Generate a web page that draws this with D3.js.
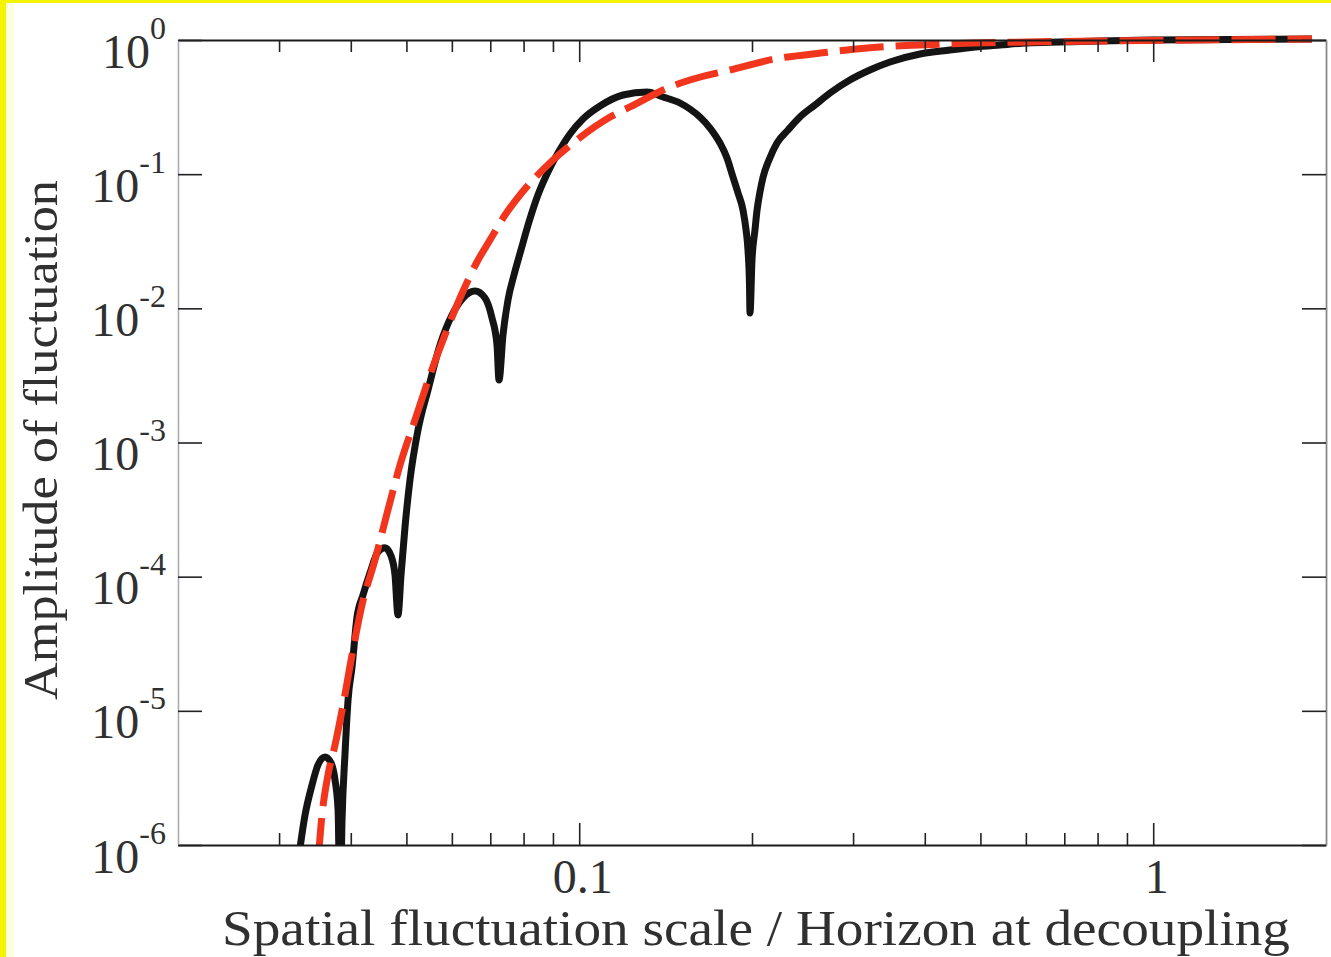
<!DOCTYPE html>
<html>
<head>
<meta charset="utf-8">
<script src="https://cdn.jsdelivr.net/npm/d3@7"></script>
<style>
  html, body { margin: 0; padding: 0; background: #fff; }
  svg { display: block; }
</style>
</head>
<body>
<svg id="chart" width="1331" height="957"></svg>
<script>
// ---- data ----
const xTicksMajor = [0.1, 1];
const xTickLabels = ["0.1", "1"];
const xTicksMinor = [0.03, 0.04, 0.05, 0.06, 0.07, 0.08, 0.09, 0.2, 0.3, 0.4, 0.5, 0.6, 0.7, 0.8, 0.9];
const yTicks = [1, 1e-1, 1e-2, 1e-3, 1e-4, 1e-5, 1e-6];
const yTickExponents = ["0", "-1", "-2", "-3", "-4", "-5", "-6"];

// solid black curve: actual fluctuation amplitude
const blackX = [0.03224, 0.03329, 0.03424, 0.03507, 0.03607, 0.03695, 0.03755, 0.03801, 0.03831, 0.03862,
  0.03909, 0.03956, 0.04020, 0.04101, 0.04201, 0.04320, 0.04461, 0.04588, 0.04700, 0.04776,
  0.04834, 0.04893, 0.04972, 0.05072, 0.05238, 0.05452, 0.05721, 0.06003, 0.06274, 0.06583,
  0.06853, 0.07048, 0.07191, 0.07249, 0.07366, 0.07515, 0.07698, 0.07916, 0.08174, 0.08474,
  0.08820, 0.09184, 0.09637, 0.1015, 0.1087, 0.1192, 0.1313, 0.1400, 0.1498, 0.1559,
  0.1623, 0.1690, 0.1759, 0.1809, 0.1853, 0.1891, 0.1929, 0.1953, 0.1968, 0.1980,
  0.1984, 0.2000, 0.2024, 0.2041, 0.2065, 0.2091, 0.2141, 0.2211, 0.2311, 0.2424,
  0.2575, 0.2735, 0.2962, 0.3209, 0.3478, 0.3924, 0.4426, 0.4894, 0.5409, 0.6028,
  0.6881, 0.8078, 0.9872, 1.891];
const blackY = [6.5e-7, 1.67e-6, 2.80e-6, 3.95e-6, 4.53e-6, 4.09e-6, 3.05e-6, 1.82e-6, 3e-7, 1.54e-6,
  4.85e-6, 1.20e-5, 2.12e-5, 5.01e-5, 7.30e-5, 1.065e-4, 1.53e-4, 1.64e-4, 1.43e-4, 1.03e-4,
  5.18e-5, 1.03e-4, 2.35e-4, 5.26e-4, 1.24e-3, 2.46e-3, 5.33e-3, 8.92e-3, 1.194e-2, 1.346e-2,
  1.194e-2, 8.47e-3, 5.33e-3, 2.92e-3, 6.33e-3, 1.154e-2, 1.772e-2, 2.721e-2, 4.40e-2, 6.99e-2,
  0.1038, 0.1438, 0.1992, 0.2577, 0.3222, 0.3891, 0.4098, 0.3759, 0.3392, 0.3060,
  0.2667, 0.2208, 0.1707, 0.1319, 0.09526, 0.07239, 0.05406, 0.03836, 0.02721, 0.01493,
  0.00923, 0.02293, 0.03836, 0.05406, 0.07366, 0.09526, 0.1275, 0.1707, 0.2135, 0.2667,
  0.3278, 0.4027, 0.5032, 0.5976, 0.6855, 0.7864, 0.8424, 0.8868, 0.9178, 0.9498,
  0.9663, 0.9830, 1.0, 1.017];

// dashed red curve: envelope
const redX = [0.03507, 0.03564, 0.03650, 0.03755, 0.03878, 0.04020, 0.04184, 0.04407, 0.04643, 0.04873,
  0.05175, 0.05495, 0.05836, 0.06199, 0.06636, 0.06991, 0.07426, 0.07885, 0.09001, 0.09754,
  0.1132, 0.1226, 0.1439, 0.1559, 0.1831, 0.2238, 0.2555, 0.2927, 0.3342, 0.3924,
  0.4855, 0.6028, 0.8078, 1.206, 1.891];
const redY = [7.47e-7, 1.67e-6, 3.32e-6, 5.56e-6, 1.106e-5, 2.61e-5, 6.15e-5, 1.331e-4, 3.14e-4, 6.80e-4,
  1.472e-3, 3.18e-3, 6.33e-3, 1.194e-2, 2.215e-2, 3.23e-2, 4.96e-2, 6.99e-2, 0.1275, 0.1707,
  0.2667, 0.3167, 0.4464, 0.5033, 0.5976, 0.7341, 0.7865, 0.8424, 0.8867, 0.9178,
  0.9498, 0.9663, 0.983, 1.0, 1.017];

const xTitle = "Spatial fluctuation scale / Horizon at decoupling";
const yTitle = "Amplitude of fluctuation";

// ---- layout ----
const W = 1331, H = 957;
const L = 178, R = 1326, T = 40, B = 845;
const svg = d3.select("#chart");
const textColor = "#303030";
const font = "'Liberation Serif', 'Times New Roman', serif";

// yellow frame remnants
svg.append("rect").attr("x", 0).attr("y", 0).attr("width", W).attr("height", H).attr("fill", "#fff");
svg.append("rect").attr("x", 6).attr("y", 0).attr("width", 8).attr("height", H).attr("fill", "#fdfde0");
svg.append("rect").attr("x", 0).attr("y", 0).attr("width", 6).attr("height", H).attr("fill", "#f4f400");
svg.append("rect").attr("x", 0).attr("y", 0).attr("width", W).attr("height", 3).attr("fill", "#f4f400");

const x = d3.scaleLog().domain([0.02, 2]).range([L, R]);
const y = d3.scaleLog().domain([1e-6, 1]).range([B, T]);

// clip
svg.append("defs").append("clipPath").attr("id", "plotclip")
  .append("rect").attr("x", L).attr("y", T - 6).attr("width", R - L).attr("height", B - T + 6);

// curves
const line = d3.line().x(d => x(d[0])).y(d => y(d[1])).curve(d3.curveMonotoneX);
const g = svg.append("g").attr("clip-path", "url(#plotclip)");
g.append("path").datum(blackX.map((v, i) => [v, blackY[i]]))
  .attr("d", line).attr("fill", "none").attr("stroke", "#141414")
  .attr("stroke-width", 7).attr("stroke-linejoin", "round");
g.append("path").datum(redX.map((v, i) => [v, redY[i]]))
  .attr("d", line).attr("fill", "none").attr("stroke", "#f2361e")
  .attr("stroke-width", 7).attr("stroke-dasharray", "44,12");

// axes
function styleAxis(sel, domainColor, domainWidth) {
  sel.select(".domain").attr("stroke", domainColor).attr("stroke-width", domainWidth);
  sel.selectAll(".tick line").attr("stroke", "#222").attr("stroke-width", 1.6);
  sel.selectAll("text").remove();
}

// bottom
const gb = svg.append("g").attr("transform", `translate(0,${B})`);
gb.call(d3.axisBottom(x).tickValues(xTicksMinor).tickSizeInner(-12).tickSizeOuter(0).tickFormat(""));
styleAxis(gb, "#1a1a1a", 2.2);
const gbM = svg.append("g").attr("transform", `translate(0,${B})`);
gbM.call(d3.axisBottom(x).tickValues(xTicksMajor).tickSizeInner(-22).tickSizeOuter(0)
  .tickPadding(14).tickFormat((d, i) => xTickLabels[i]));
gbM.select(".domain").remove();
gbM.selectAll(".tick line").attr("stroke", "#222").attr("stroke-width", 1.6);
gbM.selectAll(".tick text").attr("fill", textColor).attr("font-family", font)
  .attr("font-size", 48).attr("dy", "0.71em").attr("dx", 3);

// top
const gt = svg.append("g").attr("transform", `translate(0,${T})`);
gt.call(d3.axisTop(x).tickValues(xTicksMinor).tickSizeInner(-12).tickSizeOuter(0).tickFormat(""));
styleAxis(gt, "#1a1a1a", 2.2);
const gtM = svg.append("g").attr("transform", `translate(0,${T})`);
gtM.call(d3.axisTop(x).tickValues(xTicksMajor).tickSizeInner(-22).tickSizeOuter(0).tickFormat(""));
gtM.select(".domain").remove();
gtM.selectAll(".tick line").attr("stroke", "#222").attr("stroke-width", 1.6);
gtM.selectAll("text").remove();

// left
const gl = svg.append("g").attr("transform", `translate(${L},0)`);
gl.call(d3.axisLeft(y).tickValues(yTicks).tickSizeInner(-24).tickSizeOuter(0).tickFormat(""));
styleAxis(gl, "#a8a8b4", 1.5);
gl.selectAll(".tick").each(function(d) {
  const t = d3.select(this).append("text")
    .attr("x", -12).attr("y", 27)
    .attr("text-anchor", "end")
    .attr("fill", textColor).attr("font-family", font).attr("font-size", 48);
  t.append("tspan").text("10");
  t.append("tspan").attr("dy", -29).attr("font-size", 32).text(yTickExponents[yTicks.indexOf(d)]);
});

// right
const gr = svg.append("g").attr("transform", `translate(${R},0)`);
gr.call(d3.axisRight(y).tickValues(yTicks).tickSizeInner(-24).tickSizeOuter(0).tickFormat(""));
styleAxis(gr, "#8a8a8a", 1.8);

// titles
svg.append("text").attr("x", 756).attr("y", 945)
  .attr("text-anchor", "middle").attr("fill", textColor)
  .attr("font-family", font).attr("font-size", 50)
  .attr("textLength", 1068).attr("lengthAdjust", "spacingAndGlyphs").text(xTitle);
svg.append("text").attr("transform", `translate(57,440) rotate(-90)`)
  .attr("text-anchor", "middle").attr("fill", textColor)
  .attr("font-family", font).attr("font-size", 49)
  .attr("textLength", 520).attr("lengthAdjust", "spacingAndGlyphs").text(yTitle);
</script>
</body>
</html>
